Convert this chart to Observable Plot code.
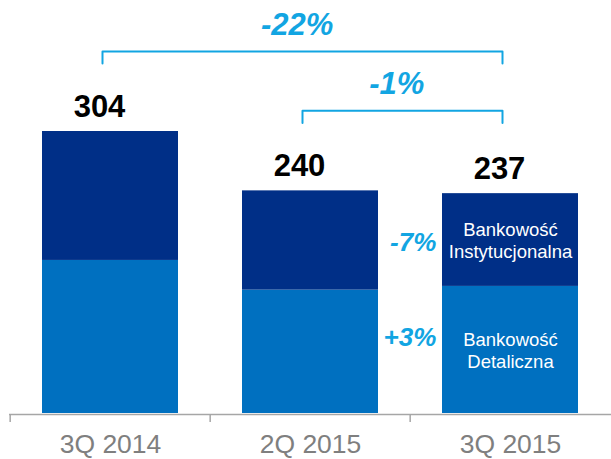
<!DOCTYPE html>
<html><head><meta charset="utf-8">
<script src="https://cdn.jsdelivr.net/npm/d3@7"></script>
<script src="https://cdn.jsdelivr.net/npm/@observablehq/plot@0.6"></script>
<style>body{margin:0;background:#fff;} svg{display:block}</style>
</head><body><div id="chart"></div>
<script>
// ---- data ----
const categories = ["3Q 2014", "2Q 2015", "3Q 2015"];
const segments = ["Bankowość Detaliczna", "Bankowość Instytucjonalna"];
const segmentLabels = ["Bankowość\nDetaliczna", "Bankowość\nInstytucjonalna"];
const detaliczna = [165, 133, 137];
const instytucjonalna = [139, 107, 100];
const totals = [304, 240, 237];
const segmentChange = ["+3%", "-7%"];
const comparisonFrom = ["3Q 2014", "2Q 2015"];
const comparisonTo = ["3Q 2015", "3Q 2015"];
const comparisonLabel = ["-22%", "-1%"];

// ---- styles ----
const W = 611, H = 459;
const mL = 9, mR = 0, mT = 131, mB = 46;
const padIn = 0.32, padOut = 0.16;
const step = (W - mL - mR) / (categories.length - padIn + 2 * padOut);
const bandW = step * (1 - padIn);
const cyan = "#12A5E2", navy = "#002F87", mid = "#0070C0", grey = "#A6A6A6";
const font = "'Liberation Sans', Arial, sans-serif";

const rows = categories.flatMap((c, i) => [
  {cat: c, seg: segments[0], value: detaliczna[i], label: segmentLabels[0], change: segmentChange[0]},
  {cat: c, seg: segments[1], value: instytucjonalna[i], label: segmentLabels[1], change: segmentChange[1]}
]);
const lastRows = rows.filter(r => r.cat === categories[categories.length - 1]);
const totalRows = categories.map((c, i) => ({cat: c, total: totals[i]}));

const legUnits = 13;
const brackets = comparisonFrom.map((f, k) => {
  const a = categories.indexOf(f), b = categories.indexOf(comparisonTo[k]);
  const top = d3.max(totals.slice(a, b + 1));
  return {from: f, to: comparisonTo[k], label: comparisonLabel[k], top, span: b - a};
});
const bracketPts = brackets.flatMap(b => [
  {id: b.label, x: b.from, y: b.top - legUnits},
  {id: b.label, x: b.from, y: b.top},
  {id: b.label, x: b.to, y: b.top},
  {id: b.label, x: b.to, y: b.top - legUnits}
]);

const changeStyle = {x: "cat", y: "value", fill: cyan, fontSize: 26, fontWeight: "bold",
  fontStyle: "italic", textAnchor: "end", lineAnchor: "middle", dx: -bandW / 2 - 6};

const marks = [
  Plot.barY(rows, {x: "cat", y: "value", fill: "seg"}),
  Plot.ruleY([0], {stroke: grey, strokeWidth: 1.5, dy: 1}),
  Plot.axisX({tickSize: 8, tickFormat: null, dx: -step / 2, dy: 1, stroke: grey, strokeWidth: 1.5}),
  Plot.axisX({tickSize: 0, tickPadding: 21, fontSize: 26.5, fill: "#7F7F7F"}),
  Plot.text(totalRows, {x: "cat", y: "total", text: d => String(d.total), dx: -11, dy: -15,
    lineAnchor: "bottom", fontSize: 31, fontWeight: "bold", fill: "#000"}),
  Plot.text(lastRows, Plot.stackY({x: "cat", y: "value", text: "label", fill: "#fff",
    fontSize: 18.5, lineHeight: 1.2, lineAnchor: "middle"})),
  Plot.text(lastRows, Plot.stackY({...changeStyle, text: d => d.seg === segments[1] ? d.change : null, dy: 3})),
  Plot.text(lastRows, Plot.stackY({...changeStyle, text: d => d.seg === segments[0] ? d.change : null, dy: -12})),
  Plot.line(bracketPts, {x: "x", y: "y", z: "id", stroke: cyan, strokeWidth: 2, dx: -8, dy: -80}),
  ...brackets.map(b => Plot.text([b], {x: "from", y: "top", text: "label", dx: b.span * step / 2 - 14,
    dy: -97, lineAnchor: "bottom", fill: cyan, fontSize: 31, fontWeight: "bold", fontStyle: "italic"}))
];

const chart = Plot.plot({
  width: W, height: H,
  marginLeft: mL, marginRight: mR, marginTop: mT, marginBottom: mB,
  style: {fontFamily: font, background: "#fff", overflow: "visible"},
  x: {domain: categories, paddingInner: padIn, paddingOuter: padOut, align: 0.5, axis: null},
  y: {domain: [0, d3.max(totals)], axis: null},
  color: {domain: segments, range: [mid, navy]},
  marks
});
document.getElementById("chart").appendChild(chart);
</script>
</body></html>
